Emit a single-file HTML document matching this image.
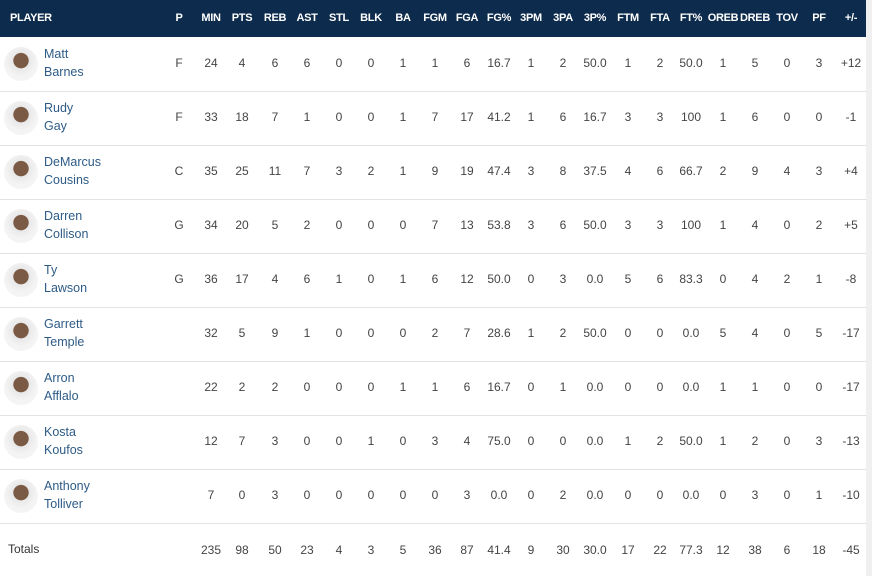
<!DOCTYPE html>
<html><head><meta charset="utf-8"><style>
body{margin:0;width:872px;height:576px;background:#fff;font-family:"Liberation Sans",sans-serif;position:relative;overflow:hidden}
.hdr{position:absolute;left:0;top:0;width:866px;height:37px;background:#0d2b4c}
.h{position:absolute;top:12px;font-size:11px;font-weight:bold;color:#fff;transform:translateX(-50%);white-space:nowrap;letter-spacing:-0.3px}
.c{position:absolute;font-size:12px;color:#444;transform:translateX(-50%);white-space:nowrap}
.row{position:absolute;left:0;width:866px;height:54px;border-bottom:1px solid #e2e2e2}
.av{position:absolute;left:4px;width:34px;height:34px;border-radius:50%;background:radial-gradient(circle at 50% 40%,#7a5a45 0 28%,#e8e8e8 30%,#f4f4f4 60%)}
.nm{position:absolute;left:44px;font-size:12.5px;color:#2d5b86;line-height:18px}
.sb{position:absolute;left:866px;top:0;width:6px;height:576px;background:#f0f0f0}
</style></head><body>
<div class="hdr"></div><div class="sb"></div>
<div id="t"></div>
<script>
var xs=[179,211,242,275,307,339,371,403,435,467,499,531,563,595,628,660,691,723,755,787,819,851];
var hs=["P","MIN","PTS","REB","AST","STL","BLK","BA","FGM","FGA","FG%","3PM","3PA","3P%","FTM","FTA","FT%","OREB","DREB","TOV","PF","+/-"];
var rows=[
["Matt","Barnes","F 24 4 6 6 0 0 1 1 6 16.7 1 2 50.0 1 2 50.0 1 5 0 3 +12"],
["Rudy","Gay","F 33 18 7 1 0 0 1 7 17 41.2 1 6 16.7 3 3 100 1 6 0 0 -1"],
["DeMarcus","Cousins","C 35 25 11 7 3 2 1 9 19 47.4 3 8 37.5 4 6 66.7 2 9 4 3 +4"],
["Darren","Collison","G 34 20 5 2 0 0 0 7 13 53.8 3 6 50.0 3 3 100 1 4 0 2 +5"],
["Ty","Lawson","G 36 17 4 6 1 0 1 6 12 50.0 0 3 0.0 5 6 83.3 0 4 2 1 -8"],
["Garrett","Temple","_ 32 5 9 1 0 0 0 2 7 28.6 1 2 50.0 0 0 0.0 5 4 0 5 -17"],
["Arron","Afflalo","_ 22 2 2 0 0 0 1 1 6 16.7 0 1 0.0 0 0 0.0 1 1 0 0 -17"],
["Kosta","Koufos","_ 12 7 3 0 0 1 0 3 4 75.0 0 0 0.0 1 2 50.0 1 2 0 3 -13"],
["Anthony","Tolliver","_ 7 0 3 0 0 0 0 0 3 0.0 0 2 0.0 0 0 0.0 0 3 0 1 -10"]];
var h='<div class="h" style="left:10px;transform:none">PLAYER</div>';
hs.forEach(function(s,i){h+='<div class="h" style="left:'+xs[i]+'px">'+s+'</div>';});
rows.forEach(function(r,k){var top=37+k*54;
h+='<div class="row" style="top:'+top+'px"></div><div class="av" style="top:'+(top+10)+'px"></div>';
h+='<div class="nm" style="top:'+(top+8)+'px">'+r[0]+'<br>'+r[1]+'</div>';
r[2].split(" ").forEach(function(v,i){if(v!="_")h+='<div class="c" style="left:'+xs[i]+'px;top:'+(top+19)+'px">'+v+'</div>';});});
h+='<div class="c" style="left:8px;transform:none;top:542px;color:#333">Totals</div>';
"_ 235 98 50 23 4 3 5 36 87 41.4 9 30 30.0 17 22 77.3 12 38 6 18 -45".split(" ").forEach(function(v,i){if(v!="_")h+='<div class="c" style="left:'+xs[i]+'px;top:543px">'+v+'</div>';});
document.getElementById("t").innerHTML=h;
</script>
</body></html>
